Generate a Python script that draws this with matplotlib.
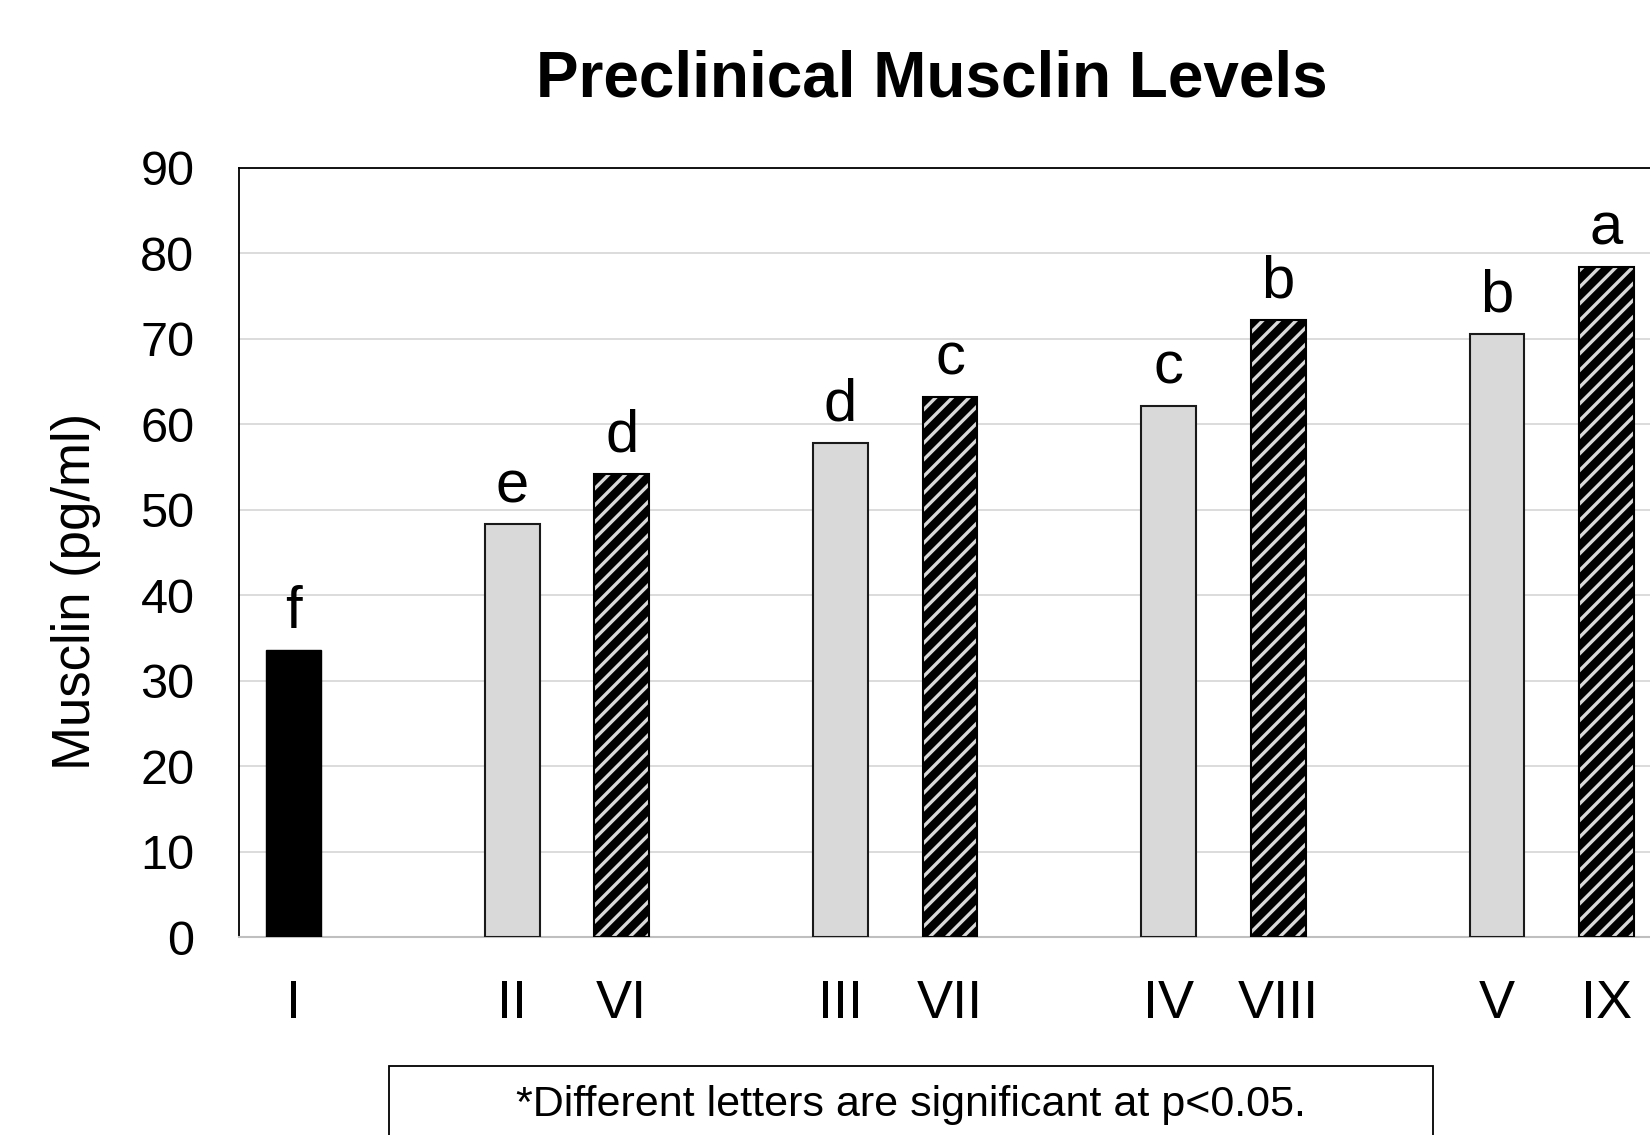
import matplotlib
matplotlib.use("Agg")
from matplotlib import pyplot as plt
from matplotlib.patches import Rectangle

plt.rcParams['font.family'] = ['Liberation Sans', 'DejaVu Sans']
plt.rcParams['hatch.linewidth'] = 2.4

# data
groups = ['I', 'II', 'VI', 'III', 'VII', 'IV', 'VIII', 'V', 'IX']
slots = [0, 2, 3, 5, 6, 8, 9, 11, 12]
values = [33.6, 48.3, 54.2, 57.8, 63.2, 62.2, 72.2, 70.6, 78.4]
letters = ['f', 'e', 'd', 'd', 'c', 'c', 'b', 'b', 'a']
kind = ['solid', 'plain', 'hatch', 'plain', 'hatch', 'plain', 'hatch', 'plain', 'hatch']

fig = plt.figure(figsize=(16.5, 11.35), dpi=100)
ax = fig.add_axes([0.1448, 0.1744, 0.8619, 0.6776])

for x, v, k in zip(slots, values, kind):
    if k == 'solid':
        ax.bar(x, v, width=0.5, color='black', edgecolor='black', linewidth=1, zorder=3)
    elif k == 'plain':
        ax.bar(x, v, width=0.5, color='#d9d9d9', edgecolor='#1a1a1a', linewidth=1.5, zorder=3)
    else:
        ax.bar(x, v, width=0.5, color='black', edgecolor='#d9d9d9', hatch='//', linewidth=0, zorder=3)
        ax.bar(x, v, width=0.5, color='none', edgecolor='black', linewidth=1.5, zorder=4)

for x, v, t in zip(slots, values, letters):
    ax.text(x, v + 2.6, t, ha='center', va='baseline', fontsize=43, zorder=5)

ax.set_xlim(-0.5, 12.5)
ax.set_ylim(0, 90)
ax.set_yticks(range(0, 91, 10))
ax.set_xticks(slots)
ax.set_xticklabels(groups)
ax.tick_params(axis='x', length=0, pad=30, labelsize=39)
ax.tick_params(axis='y', length=0, pad=32, labelsize=35)
ax.yaxis.grid(True, color='#d9d9d9', linewidth=1.3, zorder=0)
ax.set_axisbelow(True)
for s in ['left', 'top', 'right']:
    ax.spines[s].set_color('black')
    ax.spines[s].set_linewidth(1.3)
ax.spines['bottom'].set_color('#bfbfbf')
ax.spines['bottom'].set_linewidth(1.5)

ax.set_ylabel('Musclin (pg/ml)', fontsize=38)
ax.yaxis.set_label_coords(-0.097, 0.45)

fig.text(0.565, 0.93, 'Preclinical Musclin Levels', ha='center', va='center',
         fontsize=46, fontweight='bold')

fig.patches.append(Rectangle((0.2358, -0.05), 0.6327, 0.1108, transform=fig.transFigure,
                             facecolor='white', edgecolor='black', linewidth=1.3))
fig.text(0.552, 0.026, '*Different letters are significant at p<0.05.', ha='center', va='center',
         fontsize=31)

plt.savefig('out.png', dpi=100)
